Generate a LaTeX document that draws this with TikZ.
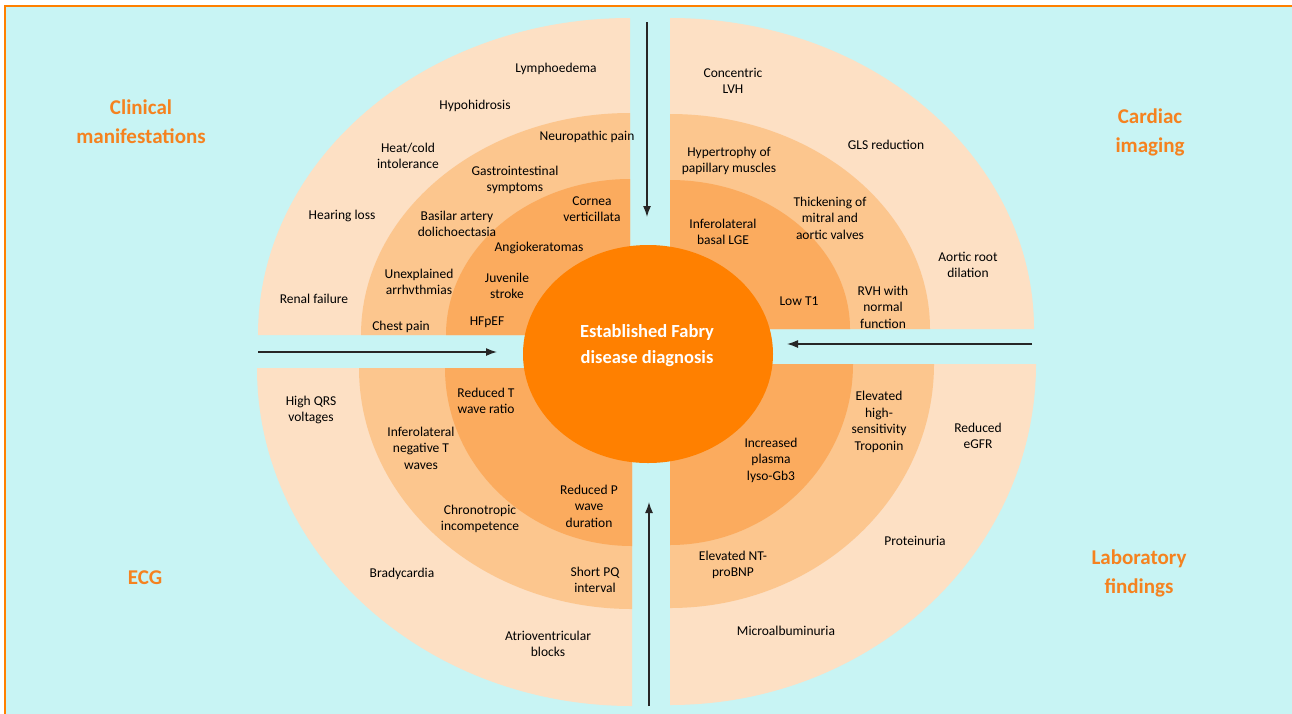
\documentclass[tikz,border=0pt]{standalone}
\usepackage{fontspec}
\setmainfont{Carlito}
\usetikzlibrary{arrows.meta,shapes.geometric}

\definecolor{sky}{HTML}{C8F4F4}
\definecolor{peachA}{HTML}{FDE0C4}
\definecolor{peachB}{HTML}{FCC68E}
\definecolor{peachC}{HTML}{FBAB5E}
\definecolor{fabry}{HTML}{FF8000}
\definecolor{heading}{HTML}{F5821F}

\begin{document}
\begin{tikzpicture}[x=1pt, y=-1pt,
    sign/.style={align=center, font=\fontsize{13.5}{16.5}\selectfont, text=black, inner sep=0pt},
    group/.style={align=center, font=\fontsize{21}{29}\selectfont\bfseries, text=heading, inner sep=0pt},
    hub/.style={align=center, font=\fontsize{18.5}{26}\selectfont\bfseries, text=white, inner sep=0pt},
    flow/.style={draw=black!85, line width=1.4pt, -{Latex[length=11pt,width=8pt]}}]
    \useasboundingbox (0,0) rectangle (1292,713);
    \clip (0,0) rectangle (1292,713);
    \fill[sky] (5,6) rectangle (1300,720);
    \draw[fabry, line width=2pt] (1300,6) -- (5,6) -- (5,720);
    % quarter bands: corner, start angle, outer/middle/inner radii
    \foreach \cx/\cy/\ang/\ox/\oy/\mx/\my/\ix/\iy in {
        630/335/180/372/317/269/222/184/156,
        670/329/270/364/311/260/215/180/149,
        670/364/0/366/341/264/244/183/181,
        632/368/90/375/338/273/241/187/178}{
        \fill[peachA] (\cx,\cy) -- ++({\ox*cos(\ang)},{\oy*sin(\ang)})
            arc[start angle=\ang, delta angle=90, x radius=\ox, y radius=\oy] -- cycle;
        \fill[peachB] (\cx,\cy) -- ++({\mx*cos(\ang)},{\my*sin(\ang)})
            arc[start angle=\ang, delta angle=90, x radius=\mx, y radius=\my] -- cycle;
        \fill[peachC] (\cx,\cy) -- ++({\ix*cos(\ang)},{\iy*sin(\ang)})
            arc[start angle=\ang, delta angle=90, x radius=\ix, y radius=\iy] -- cycle;
    }
    \node[ellipse, fill=fabry, minimum width=250, minimum height=218, inner sep=0pt] (core) at (648,354) {};
    \node[hub] (diag) at (647,346) {Established Fabry\\disease diagnosis};

    % arrows into the centre
    \coordinate (ntail) at (647,22);   \coordinate (nhead) at (647,217);
    \coordinate (wtail) at (258,352);  \coordinate (whead) at (497,352);
    \coordinate (etail) at (1032,344); \coordinate (ehead) at (787,344);
    \coordinate (stail) at (649,706);  \coordinate (shead) at (649,502);
    \draw[flow] (ntail) -- (nhead);
    \draw[flow] (wtail) -- (whead);
    \draw[flow] (etail) -- (ehead);
    \draw[flow] (stail) -- (shead);

    % headings
    \node[group] (clinical) at (141,122) {Clinical\\manifestations};
    \node[group] (imaging) at (1150,132) {Cardiac\\imaging};
    \node[group] (ecg) at (145,578) {ECG};
    \node[group] (lab) at (1139,573) {Laboratory\\findings};

    % clinical manifestations
    \node[sign] (lymph) at (556,69) {Lymphoedema};
    \node[sign] (hypo) at (475,106) {Hypohidrosis};
    \node[sign] (neuro) at (587,137) {Neuropathic pain};
    \node[sign] (heat) at (408,156) {Heat/cold\\intolerance};
    \node[sign] (gastro) at (515,180) {Gastrointestinal\\symptoms};
    \node[sign] (cornea) at (592,209) {Cornea\\verticillata};
    \node[sign] (hearing) at (342,216) {Hearing loss};
    \node[sign] (basilar) at (457,224) {Basilar artery\\dolichoectasia};
    \node[sign] (angio) at (539,248) {Angiokeratomas};
    \node[sign] (arrhyth) at (419,282) {Unexplained\\arrhvthmias};
    \node[sign] (stroke) at (507,286) {Juvenile\\stroke};
    \node[sign] (renal) at (314,299) {Renal failure};
    \node[sign] (chest) at (401,327) {Chest pain};
    \node[sign] (hfpef) at (487,322) {HFpEF};

    % cardiac imaging
    \node[sign] (lvh) at (733,81) {Concentric\\LVH};
    \node[sign] (gls) at (886,145) {GLS reduction};
    \node[sign] (papillary) at (729,161) {Hypertrophy of\\papillary muscles};
    \node[sign] (valves) at (830,218) {Thickening of\\mitral and\\aortic valves};
    \node[sign] (lge) at (723,232) {Inferolateral\\basal LGE};
    \node[sign] (aortic) at (968,265) {Aortic root\\dilation};
    \node[sign] (lowtone) at (799,301) {Low T1};
    \node[sign] (rvh) at (883,307) {RVH with\\normal\\function};

    % ECG
    \node[sign] (qrs) at (311,410) {High QRS\\voltages};
    \node[sign] (tratio) at (486,401) {Reduced T\\wave ratio};
    \node[sign] (negt) at (421,448) {Inferolateral\\negative T\\waves};
    \node[sign] (chrono) at (480,519) {Chronotropic\\incompetence};
    \node[sign] (pwave) at (589,506) {Reduced P\\wave\\duration};
    \node[sign] (brady) at (402,574) {Bradycardia};
    \node[sign] (pq) at (595,580) {Short PQ\\interval};
    \node[sign] (avblock) at (548,644) {Atrioventricular\\blocks};

    % laboratory findings
    \node[sign] (troponin) at (879,422) {Elevated\\high-\\sensitivity\\Troponin};
    \node[sign] (egfr) at (978,436) {Reduced\\eGFR};
    \node[sign] (lysogb) at (771,460) {Increased\\plasma\\lyso-Gb3};
    \node[sign] (protein) at (915,541) {Proteinuria};
    \node[sign] (ntprobnp) at (733,565) {Elevated NT-\\proBNP};
    \node[sign] (microalb) at (786,631) {Microalbuminuria};
\end{tikzpicture}
\end{document}
